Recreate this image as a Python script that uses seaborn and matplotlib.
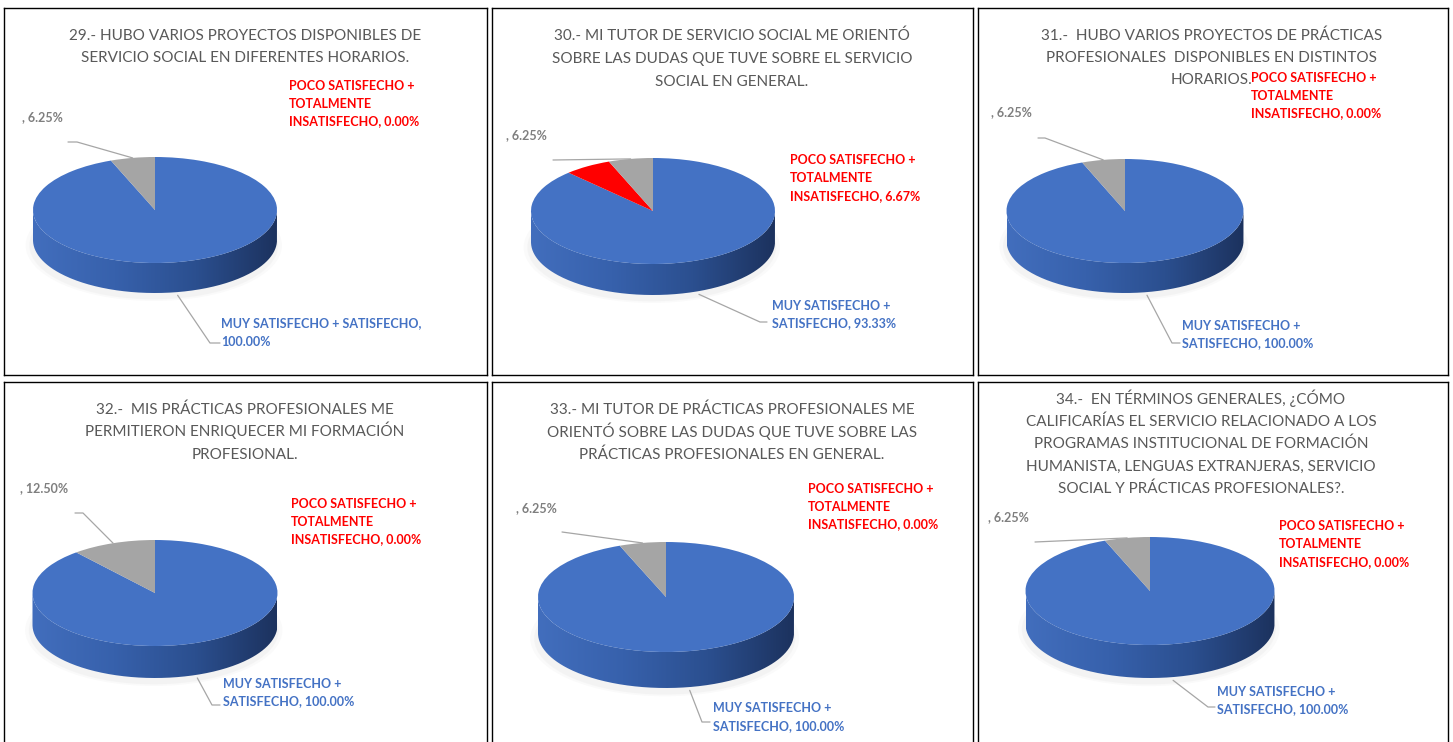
import textwrap
import numpy as np
import matplotlib
matplotlib.use("Agg")
import matplotlib.pyplot as plt
from matplotlib.path import Path
from matplotlib.patches import PathPatch
from matplotlib.colors import LinearSegmentedColormap
import seaborn as sns

sns.set_theme(style="white")
plt.rcParams["font.family"] = ["Lato", "DejaVu Sans"]

W, H = 1453, 742

# Data
titles = [
    "29.- HUBO VARIOS PROYECTOS DISPONIBLES DE\nSERVICIO SOCIAL EN DIFERENTES HORARIOS.",
    "30.- MI TUTOR DE SERVICIO SOCIAL ME ORIENTÓ\nSOBRE LAS DUDAS QUE TUVE SOBRE EL SERVICIO\nSOCIAL EN GENERAL.",
    "31.-  HUBO VARIOS PROYECTOS DE PRÁCTICAS\nPROFESIONALES  DISPONIBLES EN DISTINTOS\nHORARIOS.",
    "32.-  MIS PRÁCTICAS PROFESIONALES ME\nPERMITIERON ENRIQUECER MI FORMACIÓN\nPROFESIONAL.",
    "33.- MI TUTOR DE PRÁCTICAS PROFESIONALES ME\nORIENTÓ SOBRE LAS DUDAS QUE TUVE SOBRE LAS\nPRÁCTICAS PROFESIONALES EN GENERAL.",
    "34.-  EN TÉRMINOS GENERALES, ¿CÓMO\nCALIFICARÍAS EL SERVICIO RELACIONADO A LOS\nPROGRAMAS INSTITUCIONAL DE FORMACIÓN\n"
    "HUMANISTA, LENGUAS EXTRANJERAS, SERVICIO\nSOCIAL Y PRÁCTICAS PROFESIONALES?.",
]
categories = ["MUY SATISFECHO + SATISFECHO", "POCO SATISFECHO + TOTALMENTE INSATISFECHO", ""]
muy_satisfecho = [100.00, 93.33, 100.00, 100.00, 100.00, 100.00]
poco_satisfecho = [0.00, 6.67, 0.00, 0.00, 0.00, 0.00]
sin_categoria = [6.25, 6.25, 6.25, 12.50, 6.25, 6.25]

slice_colors = ["#4472C4", "#FF0000", "#A5A5A5"]
label_colors = ["#4472C4", "#FF0000", "#7F7F7F"]
side_cmap = LinearSegmentedColormap.from_list("side", ["#426EBD", "#3761AC", "#2B4F8F", "#1C325E"])

# Layout (pixels from top-left)
panel_box = [(4, 8, 487, 375), (492, 8, 973, 375), (978, 8, 1448, 375),
             (4, 382, 487, 760), (492, 382, 973, 760), (978, 382, 1448, 760)]
pie_geom = [(155, 210, 122, 53, 30), (653, 211, 122, 53, 31), (1125, 211, 118.5, 52, 30),
            (155, 593, 122.5, 53, 32), (666, 597, 128, 55, 36), (1150, 591, 124.5, 54, 33)]
title_pos = [(245.5, 40, 22), (732, 40.5, 22.5), (1212, 40, 22),
             (245, 413.5, 22.5), (732, 414, 22.5), (1201, 404, 22.2)]
blue_pos = [(221, 327.5, 29), (772, 309.5, 19), (1182, 329.5, 19),
            (223, 687.5, 19), (713, 712.5, 19), (1217, 695.5, 19)]
red_pos = [(289, 89.5), (790, 164.5), (1251, 81.5), (291, 507.5), (808, 492.5), (1279, 530.5)]
grey_pos = [(22, 121.5), (506, 139.5), (991, 116.5), (20, 492.5), (516, 512.5), (988, 521.5)]
grey_leader = [((68, 142), (77, 142)), ((553, 160), (553, 160)), ((1038, 138), (1045, 138)),
               ((75, 513), (83, 513)), ((562, 532), (562, 532)), ((1035, 542), (1035, 542))]
blue_leader = [((220, 343), (210, 343)), ((767, 322), (760, 322)), ((1180, 343), (1172, 343)),
               ((220, 705), (212, 705)), ((710, 722), (702, 722)), ((1215, 707), (1208, 707))]

fig = plt.figure(figsize=(W / 100, H / 100), dpi=100)
fig.patch.set_facecolor("white")

for i in range(6):
    l, t, r, b = panel_box[i]
    ax = fig.add_axes([l / W, 1 - b / H, (r - l) / W, (b - t) / H])
    cx, cy, rx, ry, dp = pie_geom[i]
    D = dp / ry

    def to_data(px, py):
        return (px - cx) / rx, (cy - py) / ry

    vals = [muy_satisfecho[i], poco_satisfecho[i], sin_categoria[i]]

    # faint shadow under the disc
    for grow, a in [(1.05, 0.2), (1.02, 0.3)]:
        sw, _ = ax.pie([1], radius=grow, center=(-0.01, -D - 0.1), colors=["#E6E6E6"],
                       wedgeprops=dict(linewidth=0, alpha=a))
        for w in sw:
            w.set_zorder(0)

    # side of the disc
    tt = np.linspace(np.pi, 2 * np.pi, 200)
    verts = np.concatenate([np.column_stack([np.cos(tt), np.sin(tt)]),
                            np.column_stack([np.cos(tt[::-1]), np.sin(tt[::-1]) - D])])
    side = PathPatch(Path(verts), facecolor="none", edgecolor="none")
    ax.add_patch(side)
    im = ax.imshow(np.linspace(0, 1, 256)[None, :], cmap=side_cmap, extent=(-1, 1, -1 - D, 0.05),
                   aspect="auto", zorder=1, interpolation="bicubic")
    im.set_clip_path(side)

    # top of the disc
    wedges, _ = ax.pie(vals, colors=slice_colors, startangle=90, counterclock=False,
                       radius=1, center=(0, 0), wedgeprops=dict(linewidth=0))
    for w in wedges:
        w.set_zorder(3)

    # title
    tx, ty, tsp = title_pos[i]
    for k, line in enumerate(titles[i].split("\n")):
        ax.text(*to_data(tx, ty + k * tsp), line, ha="center", va="baseline",
                fontsize=11, color="#595959", zorder=5)

    # data labels
    def put_label(idx, x, y, width=60):
        s = f"{categories[idx]}, {vals[idx]:.2f}%"
        for k, line in enumerate(textwrap.wrap(s, width)):
            ax.text(*to_data(x, y + k * 18), line, ha="left", va="baseline", fontsize=9,
                    fontweight="bold", color=label_colors[idx], zorder=5)

    put_label(0, blue_pos[i][0], blue_pos[i][1], blue_pos[i][2])
    put_label(1, red_pos[i][0], red_pos[i][1], 19)
    put_label(2, grey_pos[i][0], grey_pos[i][1])

    # leader lines
    th = np.deg2rad((wedges[2].theta1 + wedges[2].theta2) / 2)
    p_tail, p_elbow = grey_leader[i]
    xs = [to_data(*p_tail)[0], to_data(*p_elbow)[0], np.cos(th)]
    ys = [to_data(*p_tail)[1], to_data(*p_elbow)[1], np.sin(th)]
    ax.plot(xs, ys, color="#A6A6A6", lw=0.9, zorder=4, clip_on=False)

    th = np.deg2rad((wedges[0].theta1 + wedges[0].theta2) / 2)
    p_tail, p_elbow = blue_leader[i]
    xs = [to_data(*p_tail)[0], to_data(*p_elbow)[0], np.cos(th) * 1.01]
    ys = [to_data(*p_tail)[1], to_data(*p_elbow)[1], np.sin(th) * 1.01 - D - 0.05]
    ax.plot(xs, ys, color="#A6A6A6", lw=0.9, zorder=4, clip_on=False)

    ax.set_aspect("auto")
    ax.set_xlim((l - cx) / rx, (r - cx) / rx)
    ax.set_ylim((cy - b) / ry, (cy - t) / ry)
    ax.set_xticks([])
    ax.set_yticks([])
    ax.set_frame_on(True)
    ax.set_facecolor("white")
    for sp in ax.spines.values():
        sp.set_visible(True)
        sp.set_color("black")
        sp.set_linewidth(1.0)

fig.savefig("out.png", dpi=100, facecolor="white")
